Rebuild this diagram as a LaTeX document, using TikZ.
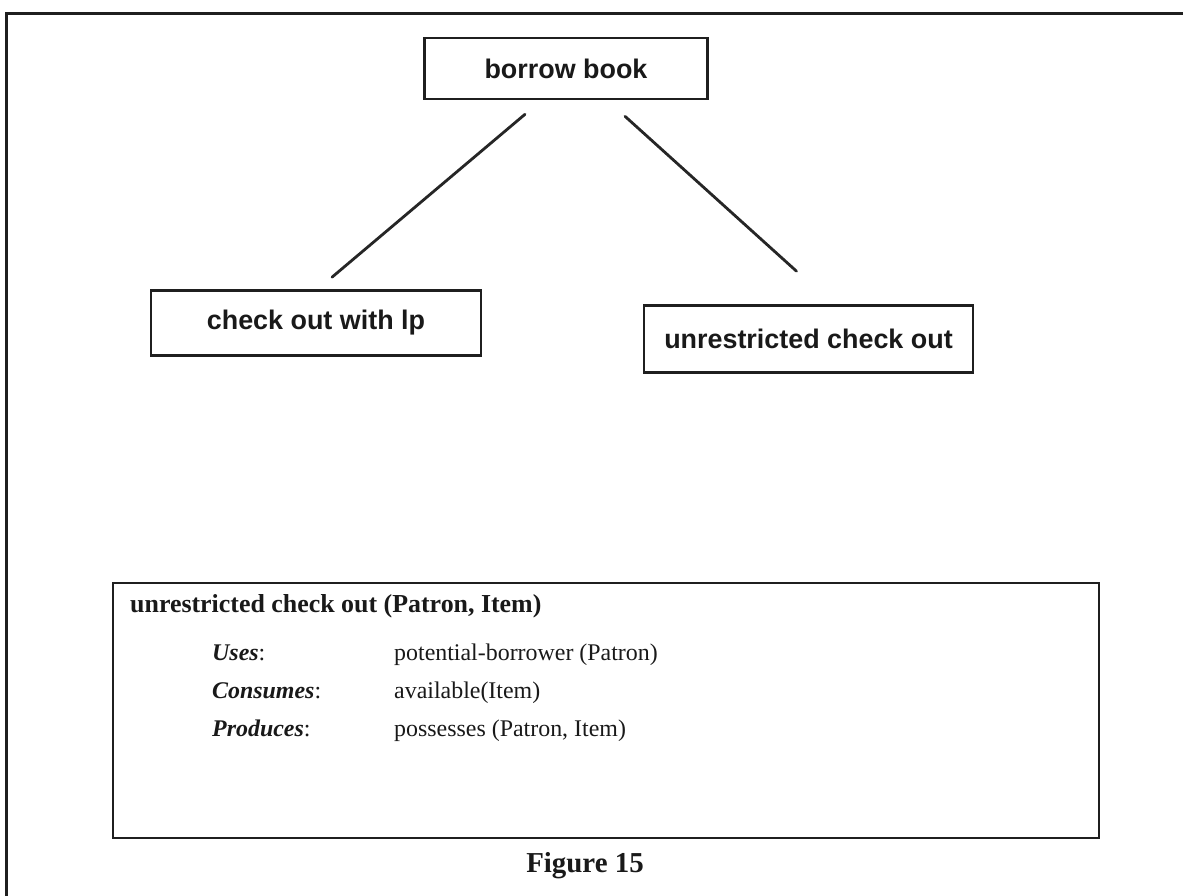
\documentclass[tikz,border=0pt]{standalone}
\usepackage{fontspec}
\setmainfont{Liberation Serif}
\setsansfont{Liberation Sans}
\usetikzlibrary{calc}
\begin{document}
\begin{tikzpicture}[x=1bp,y=-1bp,
  ink/.style={draw=black!88, line width=2.6bp},
  taskbox/.style={ink, rectangle, inner sep=0pt,
    font=\sffamily\bfseries\fontsize{27}{32}\selectfont, text=black!90},
  link/.style={draw=black!85, line width=2.8bp, line cap=round},
  spectitle/.style={anchor=base west, inner sep=0pt, text=black!90,
    font=\bfseries\fontsize{26}{30}\selectfont},
  speckey/.style={anchor=base west, inner sep=0pt, text=black!90,
    font=\fontsize{24}{28}\selectfont},
  specval/.style={anchor=base west, inner sep=0pt, text=black!90,
    font=\fontsize{24}{28}\selectfont},
  caption/.style={inner sep=0pt, text=black!90,
    font=\bfseries\fontsize{29}{33}\selectfont}
]
\useasboundingbox (0,0) rectangle (1183,896);
\fill[white] (0,0) rectangle (1183,896);

% open page frame: left edge and top edge
\draw[ink, line width=3bp] (6,896) -- (6,13) -- (1183,13);

% task hierarchy
\node[taskbox, minimum width=283bp, minimum height=61bp] (bb) at (566,68.5) {borrow book};
\node[taskbox, minimum width=330bp, minimum height=65bp] (co) at (316,323) {check out with lp};
\node[taskbox, minimum width=329bp, minimum height=67bp] (uc) at (808.5,339) {unrestricted check out};

% links start a little below the parent and stop short of the children
\draw[link] ($(bb.south)+(-41,14)$) -- ($(co.north)+(16,-12)$);
\draw[link] ($(bb.south)+(59,16)$) -- ($(uc.north)+(-12,-33)$);

% operator specification
\node[ink, rectangle, minimum width=986bp, minimum height=255bp, inner sep=0pt] (spec) at (606,710.5) {};
\node[spectitle] (t0) at (130,612) {unrestricted check out (Patron, Item)};
\node[speckey] (k1) at (212,660) {\textbf{\textit{Uses}}:};
\node[specval] (v1) at (394,660) {potential-borrower (Patron)};
\node[speckey] (k2) at (212,698) {\textbf{\textit{Consumes}}:};
\node[specval] (v2) at (394,698) {available(Item)};
\node[speckey] (k3) at (212,736) {\textbf{\textit{Produces}}:};
\node[specval] (v3) at (394,736) {possesses (Patron, Item)};

\node[caption] (fig) at (585,866) {Figure 15};
\end{tikzpicture}
\end{document}
